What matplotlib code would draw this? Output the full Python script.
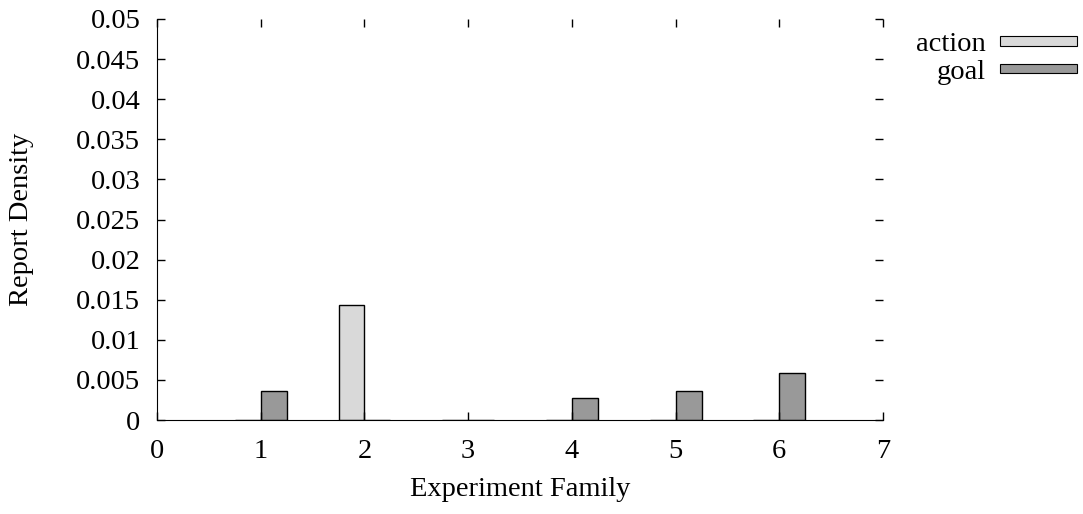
import matplotlib
matplotlib.use("Agg")
import matplotlib.pyplot as plt
from matplotlib.patches import Patch
import numpy as np

families = [1, 2, 3, 4, 5, 6]
action = [0.0, 0.0143, 0.0, 0.0, 0.0, 0.0]
goal = [0.0036, 0.0, 0.0, 0.0027, 0.0036, 0.0058]
xticks = [0, 1, 2, 3, 4, 5, 6, 7]
yticks = [0, 0.005, 0.01, 0.015, 0.02, 0.025, 0.03, 0.035, 0.04, 0.045, 0.05]
ytick_labels = ["0", "0.005", "0.01", "0.015", "0.02", "0.025", "0.03", "0.035", "0.04", "0.045", "0.05"]

plt.rcParams['font.family'] = ['Liberation Serif', 'DejaVu Serif']
plt.rcParams['font.size'] = 20.5

fig = plt.figure(figsize=(10.83, 5.14), dpi=100)
ax = fig.add_axes([157/1083, 1-420/514, (883-157)/1083, (420-19)/514])

w = 0.25
x = np.array(families)
ax.bar(x - w, action, width=w, align='edge', color='#d9d9d9', edgecolor='black', linewidth=1.0)
ax.bar(x, goal, width=w, align='edge', color='#999999', edgecolor='black', linewidth=1.0)

ax.set_xlim(0, 7)
ax.set_ylim(0, 0.05)
ax.set_xticks(xticks)
ax.set_xticklabels([str(t) for t in xticks])
ax.set_yticks(yticks)
ax.set_yticklabels(ytick_labels)
ax.tick_params(direction='in', length=6, width=1, top=True, right=True)
ax.tick_params(axis='y', pad=12)
ax.tick_params(axis='x', pad=14)
ax.spines['top'].set_visible(False)
ax.spines['right'].set_visible(False)
ax.set_xlabel("Experiment Family")
ax.set_ylabel("Report Density")
ax.yaxis.set_label_coords(22/1083, 1-219.5/514, transform=fig.transFigure)
ax.xaxis.set_label_coords((157+883)/2/1083, 1-489/514, transform=fig.transFigure)
ax.xaxis.label.set_va('center')
ax.yaxis.label.set_va('center')

handles = [Patch(facecolor='#d9d9d9', edgecolor='black', linewidth=0.8),
           Patch(facecolor='#999999', edgecolor='black', linewidth=0.8)]
fig.legend(handles, ["action", "goal"], loc='upper right', bbox_to_anchor=(1077/1083, 1-32/514),
           frameon=False, markerfirst=False, handlelength=2.7, handleheight=0.15,
           labelspacing=0.1, handletextpad=0.5, borderpad=0, borderaxespad=0)

fig.savefig("out.png", dpi=100)
